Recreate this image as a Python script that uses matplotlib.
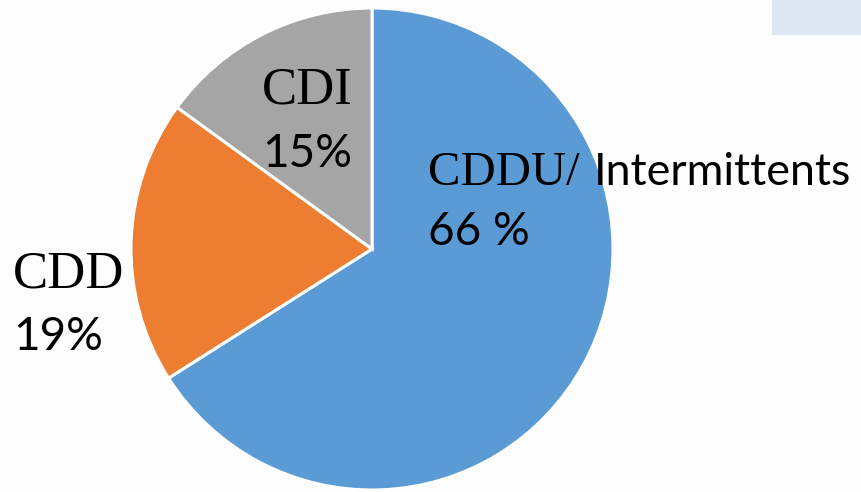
import matplotlib
matplotlib.use("Agg")
import matplotlib.pyplot as plt
from matplotlib.patches import Rectangle

# data
labels = ["CDDU/", "CDD", "CDI"]
label_extra = ["Intermittents", "", ""]
shares = [66, 19, 15]
pct_text = ["66 %", "19%", "15%"]
colors = ["#5B9BD5", "#ED7D31", "#A5A5A5"]

W, H = 861, 492
fig = plt.figure(figsize=(W / 100, H / 100), dpi=100)
fig.patch.set_facecolor("#FDFDFD")
ax = fig.add_axes([0, 0, 1, 1])

# light blue box top right
ax.add_patch(Rectangle((772, H - 35), W - 772, 35, color="#DDE8F3", lw=0))

ax.pie(
    shares,
    colors=colors,
    startangle=90,
    counterclock=False,
    center=(372, H - 249),
    radius=241,
    wedgeprops=dict(edgecolor="white", linewidth=2.2),
    frame=True,
)
ax.set_xlim(0, W)
ax.set_ylim(0, H)
ax.set_aspect("equal")
ax.axis("off")

serif = "Liberation Serif"
sans = "Lato"

# label positions (x, name baseline, pct baseline, name size)
pos = [(428, 185, 245, 35), (13, 288, 350, 38), (262, 103, 167, 38)]

for i in range(len(labels)):
    x, yb, yp, fs = pos[i]
    ax.text(x, H - yb, labels[i], family=serif, fontsize=fs,
            va="baseline", ha="left", color="black")
    if label_extra[i]:
        ax.text(594, H - yb, label_extra[i], family=sans, fontsize=32.2,
                va="baseline", ha="left", color="black")
    ax.text(x, H - yp, pct_text[i], family=sans, fontsize=33,
            va="baseline", ha="left", color="black")

fig.savefig("out.png", dpi=100, facecolor=fig.get_facecolor())
